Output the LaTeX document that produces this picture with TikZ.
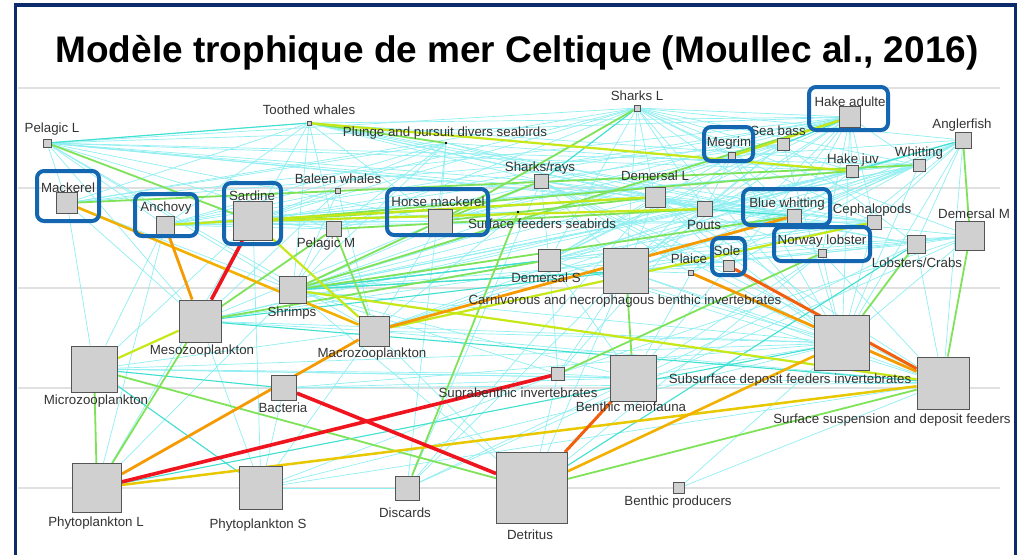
\documentclass[tikz,border=0pt]{standalone}
\usepackage{fontspec}
\setmainfont{Liberation Sans}
\pgfdeclarelayer{paper}
\pgfdeclarelayer{grid}
\pgfdeclarelayer{edges}
\pgfsetlayers{paper,grid,edges,main}
\definecolor{navy}{HTML}{0D2B6B}
\definecolor{hl}{HTML}{1466B0}
\definecolor{cyl}{HTML}{8FEFF2}
\definecolor{cym}{HTML}{3FE0D0}
\definecolor{grn}{HTML}{7FE35A}
\definecolor{ygr}{HTML}{C6E817}
\definecolor{yel}{HTML}{E8C800}
\definecolor{yor}{HTML}{F2B000}
\definecolor{org}{HTML}{F59A00}
\definecolor{rdo}{HTML}{F2600F}
\definecolor{rdd}{HTML}{F0141E}
\definecolor{sqfill}{HTML}{D0D0D0}
\definecolor{sqdraw}{HTML}{555555}
\definecolor{txt}{HTML}{333333}
\tikzset{
  sq/.style={draw=sqdraw, fill=sqfill, line width=0.8pt, minimum size=#1, inner sep=0pt, shape=rectangle},
  dotnode/.style={circle, fill=black, minimum size=2.6pt, inner sep=0pt},
  lbl/.style={font=\fontsize{13.3}{15}\selectfont, text=txt, inner sep=0pt, anchor=base},
  ecl/.style={draw=cyl, line width=0.7pt},
  ecm/.style={draw=cym, line width=1.1pt},
  egr/.style={draw=grn, line width=1.8pt},
  eyg/.style={draw=ygr, line width=2.2pt},
  eye/.style={draw=yel, line width=2.5pt},
  eyo/.style={draw=yor, line width=2.6pt},
  eor/.style={draw=org, line width=2.8pt},
  ero/.style={draw=rdo, line width=3pt},
  erd/.style={draw=rdd, line width=3.6pt},
  hbox/.style={draw=hl, line width=4pt, rounded corners=7pt},
  gridline/.style={draw=black!12, line width=1.2pt}
}
\begin{document}
\begin{tikzpicture}[x=1pt,y=-1pt]
\useasboundingbox (0,0) rectangle (1019,554);
\begin{pgfonlayer}{paper}
\fill[white] (0,0) rectangle (1019,554);
\end{pgfonlayer}
% frame
\draw[navy, line width=3.6pt] (15.5,560) -- (15.5,5) -- (1015.5,5) -- (1015.5,560);
% title
\node[font=\fontsize{37}{40}\selectfont\bfseries, inner sep=0pt, anchor=base] (title) at (517,62) {Modèle trophique de mer Celtique (Moullec al., 2016)};
% level lines
\begin{pgfonlayer}{grid}
\foreach \yy in {88,188,288,388,488} \draw[gridline] (18,\yy) -- (1000,\yy);
\end{pgfonlayer}
% nodes
\node[sq=8] (PL) at (47,143) {};
\node[sq=4] (TW) at (309,123) {};
\node[dotnode] (PD) at (446,143) {};
\node[sq=6] (SL) at (637,108) {};
\node[sq=21] (HA) at (850,117) {};
\node[sq=16] (AF) at (963,140) {};
\node[sq=7] (MG) at (732,156) {};
\node[sq=12] (SB) at (783,144) {};
\node[sq=12] (HJ) at (852,171) {};
\node[sq=12] (WH) at (919,165) {};
\node[sq=14] (SR) at (541,181) {};
\node[sq=20] (DL) at (655,197) {};
\node[sq=15] (PO) at (705,209) {};
\node[sq=14] (BW) at (794,216) {};
\node[sq=14] (CE) at (874,222) {};
\node[sq=29] (DM) at (970,236) {};
\node[sq=8] (NL) at (822,253) {};
\node[sq=18] (LC) at (916,244) {};
\node[sq=11] (SO) at (729,266) {};
\node[sq=5] (PA) at (691,273) {};
\node[sq=5] (BA) at (338,191) {};
\node[sq=15] (PM) at (334,229) {};
\node[sq=24] (HM) at (440,221) {};
\node[dotnode] (SF) at (518,212) {};
\node[sq=21] (MA) at (67,203) {};
\node[sq=18] (AN) at (165,225) {};
\node[sq=39] (SA) at (253,221) {};
\node[sq=22] (DS) at (549,260) {};
\node[sq=45] (CN) at (626,271) {};
\node[sq=27] (SH) at (293,290) {};
\node[sq=42] (ME) at (200,321) {};
\node[sq=30] (MC) at (374,331) {};
\node[sq=46] (MI) at (94,369) {};
\node[sq=25] (BC) at (284,388) {};
\node[sq=13] (SU) at (558,374) {};
\node[sq=46] (BM) at (633,378) {};
\node[sq=55] (SD) at (842,343) {};
\node[sq=52] (SS) at (943,383) {};
\node[sq=49] (PHL) at (97,488) {};
\node[sq=43] (PHS) at (261,488) {};
\node[sq=24] (DI) at (407,488) {};
\node[sq=71] (DE) at (532,488) {};
\node[sq=11] (BP) at (679,488) {};
% edges
\begin{pgfonlayer}{edges}
\foreach \a/\b in {PL/TW,PL/SL,PL/HA,PL/MA,PL/AN,PL/SA,PL/HM,PL/PM,PL/BW,PL/CE,PL/HJ,PL/WH,PL/SR,PL/DL,PL/ME,PL/SH,PL/MC,
 TW/MA,TW/SA,TW/HM,TW/PM,TW/BW,TW/CE,TW/HA,TW/PO,TW/DL,TW/SR,TW/WH,TW/AN,TW/SH,
 PD/SA,PD/AN,PD/MA,PD/HM,PD/PM,PD/SH,PD/PO,PD/DI,PD/BW,PD/HJ,
 SL/MA,SL/HM,SL/HA,SL/DL,SL/DM,SL/CE,SL/SR,SL/PM,SL/BW,SL/WH,SL/AF,SL/MG,SL/SA,SL/AN,SL/HJ,SL/PO,SL/DS,SL/CN,SL/SD,
 HA/HJ,HA/BW,HA/WH,HA/PO,HA/HM,HA/MA,HA/CE,HA/SH,HA/NL,HA/DS,HA/SA,HA/AN,HA/PM,HA/DL,HA/SD,HA/CN,HA/SO,HA/PA,
 AF/WH,AF/HJ,AF/BW,AF/PO,AF/DS,AF/CE,AF/NL,AF/LC,AF/SD,AF/CN,AF/MG,AF/SO,AF/PA,AF/SS,
 MG/SH,MG/CN,MG/PO,MG/DS,MG/SD,MG/BW,
 SB/SH,SB/CN,SB/DS,SB/LC,SB/SD,SB/SA,SB/PO,SB/MA,SB/HM,
 HJ/SH,HJ/ME,HJ/MC,HJ/PO,HJ/BW,HJ/SA,HJ/AN,
 WH/SH,WH/MC,WH/PO,WH/BW,WH/SA,WH/DS,WH/CN,WH/SD,WH/AN,
 SR/CN,SR/SD,SR/DS,SR/SH,SR/CE,SR/LC,SR/PO,SR/SO,SR/PA,SR/DI,SR/SS,
 DL/DS,DL/CN,DL/SD,DL/SH,DL/CE,DL/PO,DL/LC,DL/BW,DL/NL,DL/SO,DL/SS,DL/DI,
 PO/SH,PO/MC,PO/ME,PO/CN,PO/SD,PO/SU,
 BW/ME,BW/SH,
 CE/SH,CE/ME,CE/DS,CE/CN,CE/SA,CE/AN,CE/SD,
 DM/SH,DM/CN,DM/SD,DM/LC,DM/NL,DM/DS,DM/SU,DM/DI,DM/PO,
 NL/SD,NL/SS,NL/CN,NL/DE,NL/BM,
 LC/CN,LC/SD,LC/SS,LC/DI,
 SO/SD,SO/CN,SO/BM,
 PA/SD,PA/CN,PA/BM,
 BA/ME,BA/MC,BA/SA,BA/AN,BA/SH,
 PM/ME,PM/SH,PM/SA,PM/AN,
 HM/ME,HM/MC,HM/SH,HM/SA,HM/AN,
 SF/SA,SF/AN,SF/SH,SF/MC,SF/HM,
 MA/ME,MA/SH,MA/MI,
 AN/MI,AN/PHL,
 SA/MI,SA/PHL,SA/PHS,SA/MC,
 DS/SD,DS/SU,DS/BM,DS/SS,
 CN/SD,CN/SS,CN/DE,CN/DI,CN/SU,
 SH/DE,SH/SU,SH/BM,SH/PHL,SH/SD,
 ME/PHS,ME/SD,
 MC/ME,MC/MI,MC/PHS,MC/SD,MC/SS,MC/DE,
 MI/SU,MI/BM,MI/SD,MI/SS,
 SU/DE,SU/PHS,SU/BM,
 BM/BC,BM/SD,
 SD/BC,SD/BP,
 SS/PHS,SS/BP,SS/BC,
 PHS/SD,PHS/BC,DI/PHS}
 \draw[ecl] (\a) -- (\b);
\foreach \a/\b in {MI/PHS,MI/BC,ME/CN,ME/SS,SH/CN,SH/DS,DE/LC,PHL/SD,DS/SH,CN/SH,PO/BW,BW/MC,HA/SB,SL/SR,AF/HJ,TW/PL}
 \draw[ecm] (\a) -- (\b);
\foreach \a/\b in {MI/PHL,ME/PHL,MI/DE,DE/SS,DI/SF,SU/NL,CN/BM,AF/DM,DM/SS,MA/WH,PL/SA,SA/HJ,HM/DL,PM/PO,SH/HA,SH/BW,PD/TW,SL/HM,HM/SR,SA/DL,LC/SD,ME/DS,SH/HM,PM/ME,PM/MC}
 \draw[egr] (\a) -- (\b);
\foreach \a/\b in {ME/MI,SH/SS,MC/CE,TW/HJ,HA/MG,SA/PO,AN/DL,MC/SA}
 \draw[eyg] (\a) -- (\b);
\draw[eye] (PHL) -- (SS);
\draw[eyo] (MA) -- (MC);
\draw[eyo] (DE) -- (SD);
\draw[eor] (AN) -- (ME);
\draw[eor] (PHL) -- (MC);
\draw[eor] (MC) -- (BW);
\draw[eor] (PA) -- (SS);
\draw[ero] (SO) -- (SS);
\draw[ero] (DE) -- (BM);
\draw[erd] (SA) -- (ME);
\draw[erd] (BC) -- (DE);
\draw[erd] (PHL) -- (SU);
\end{pgfonlayer}
% labels
\node[lbl] (lPL) at (52,132) {Pelagic L};
\node[lbl] (lTW) at (309,114) {Toothed whales};
\node[lbl] (lPD) at (445,136) {Plunge and pursuit divers seabirds};
\node[lbl] (lSL) at (637,100) {Sharks L};
\node[lbl] (lHA) at (850,106) {Hake adulte};
\node[lbl] (lAF) at (962,128) {Anglerfish};
\node[lbl] (lMG) at (729,146) {Megrim};
\node[lbl] (lSB) at (778,135) {Sea bass};
\node[lbl] (lHJ) at (853,163) {Hake juv};
\node[lbl] (lWH) at (919,156) {Whitting};
\node[lbl] (lSR) at (540,171) {Sharks/rays};
\node[lbl] (lDL) at (655,180) {Demersal L};
\node[lbl] (lHM) at (438,206) {Horse mackerel};
\node[lbl] (lSF) at (542,228) {Surface feeders seabirds};
\node[lbl] (lBA) at (338,183) {Baleen whales};
\node[lbl] (lPM) at (326,247) {Pelagic M};
\node[lbl] (lMA) at (68,192) {Mackerel};
\node[lbl] (lAN) at (166,211) {Anchovy};
\node[lbl] (lSA) at (252,200) {Sardine};
\node[lbl] (lBW) at (787,207) {Blue whitting};
\node[lbl] (lCE) at (872,213) {Cephalopods};
\node[lbl] (lDM) at (974,218) {Demersal M};
\node[lbl] (lNL) at (822,244) {Norway lobster};
\node[lbl] (lPO) at (704,229) {Pouts};
\node[lbl] (lSO) at (727,255) {Sole};
\node[lbl] (lPA) at (689,263) {Plaice};
\node[lbl] (lLC) at (917,267) {Lobsters/Crabs};
\node[lbl] (lDS) at (546,282) {Demersal S};
\node[lbl] (lCN) at (625,304) {Carnivorous and necrophagous benthic invertebrates};
\node[lbl] (lSH) at (292,316) {Shrimps};
\node[lbl] (lME) at (202,354) {Mesozooplankton};
\node[lbl] (lMC) at (372,357) {Macrozooplankton};
\node[lbl] (lMI) at (96,404) {Microzooplankton};
\node[lbl] (lBC) at (283,412) {Bacteria};
\node[lbl] (lSU) at (518,397) {Suprabenthic invertebrates};
\node[lbl] (lBM) at (631,411) {Benthic meiofauna};
\node[lbl] (lSD) at (790,383) {Subsurface deposit feeders invertebrates};
\node[lbl] (lSS) at (892,423) {Surface suspension and deposit feeders};
\node[lbl] (lPHL) at (96,526) {Phytoplankton L};
\node[lbl] (lPHS) at (258,528) {Phytoplankton S};
\node[lbl] (lDI) at (405,517) {Discards};
\node[lbl] (lDE) at (530,539) {Detritus};
\node[lbl] (lBP) at (678,505) {Benthic producers};
% highlight boxes
\draw[hbox] (37,171) rectangle (99,221);
\draw[hbox] (135,194) rectangle (197,236);
\draw[hbox] (224,183) rectangle (281,244);
\draw[hbox] (387,189) rectangle (488,235);
\draw[hbox] (704,127) rectangle (753,161);
\draw[hbox] (809,87) rectangle (888,130);
\draw[hbox] (743,189) rectangle (830,225);
\draw[hbox] (774,227) rectangle (870,261);
\draw[hbox] (712,238) rectangle (745,275);
\end{tikzpicture}
\end{document}
